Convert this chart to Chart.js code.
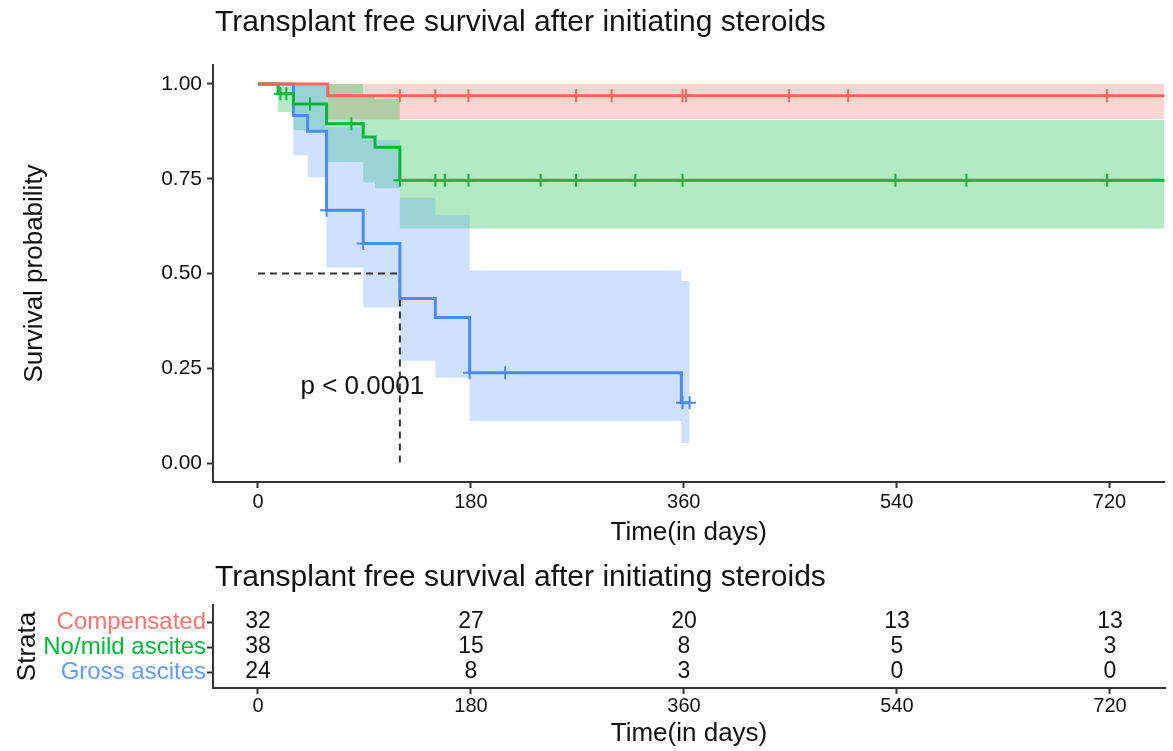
<!DOCTYPE html>
<html lang="en">
<head>
<meta charset="UTF-8">
<title>Transplant free survival after initiating steroids</title>
<script src="https://cdn.jsdelivr.net/npm/chart.js"></script>
<style>
  body { margin: 0; background: #fff; }
  #wrap { position: relative; width: 1173px; height: 751px; }
  #kmChart { position: absolute; left: 0; top: 0; }
  #riskChart { position: absolute; left: 0; top: 556px; }
</style>
</head>
<body>
<div id="wrap">
  <canvas id="kmChart" width="1173" height="556"></canvas>
  <canvas id="riskChart" width="1173" height="195"></canvas>
</div>
<script>
const chartTitle = 'Transplant free survival after initiating steroids';
const strata = ['Compensated', 'No/mild ascites', 'Gross ascites'];
const lineColors = ['#F4675E', '#0AB53B', '#4A8BF6'];
const labelColors = ['#F8766D', '#00BA38', '#619CFF'];
const bandColors = ['rgba(248,118,109,0.3)', 'rgba(0,186,56,0.3)', 'rgba(97,156,255,0.3)'];

// survival estimates (time in days)
const compTimes = [0, 59, 770];
const compSurv  = [1, 0.969, 0.969];
const compUpper = [1, 1, 1];
const compLower = [1, 0.907, 0.907];
const compCensor = [120, 150, 178, 269, 299, 359, 362, 449, 499, 718];

const mildTimes = [0, 17, 30, 58, 89, 99, 120, 770];
const mildSurv  = [1, 0.974, 0.947, 0.895, 0.86, 0.833, 0.746, 0.746];
const mildUpper = [1, 1, 1, 1, 0.97, 0.96, 0.905, 0.905];
const mildLower = [1, 0.926, 0.878, 0.794, 0.74, 0.725, 0.619, 0.619];
const mildCensor = [19, 24, 44, 79, 120, 150, 158, 178, 239, 269, 319, 359, 539, 599, 718];

const grossTimes = [0, 30, 42, 58, 89, 120, 150, 179, 358, 365];
const grossSurv  = [1, 0.917, 0.875, 0.667, 0.579, 0.434, 0.384, 0.238, 0.159, 0.159];
const grossUpper = [1, 1, 1, 0.886, 0.852, 0.70, 0.653, 0.508, 0.48, 0.48];
const grossLower = [1, 0.812, 0.754, 0.516, 0.41, 0.27, 0.225, 0.111, 0.053, 0.053];
const grossCensor = [58, 89, 179, 209, 359, 365];

const medianTime = 120;
const xTicks = [0, 180, 360, 540, 720];
const yTicks = [0, 0.25, 0.5, 0.75, 1];
const pvalText = 'p < 0.0001';
const pvalPos = [36, 0.2];

// numbers at risk at each x tick
const riskComp  = [32, 27, 20, 13, 13];
const riskMild  = [38, 15, 8, 5, 3];
const riskGross = [24, 8, 3, 0, 0];

const fontFam = '"Liberation Sans", Arial, Helvetica, sans-serif';
Chart.defaults.font.family = fontFam;
Chart.defaults.color = '#111';

function pts(times, vals) {
  return times.map((t, i) => ({ x: t, y: vals[i] }));
}
function survAt(times, vals, t) {
  let s = vals[0];
  times.forEach((tt, i) => { if (tt <= t) s = vals[i]; });
  return s;
}
function censorPts(censor, times, vals) {
  return censor.map(t => ({ x: t, y: survAt(times, vals, t) }));
}

const groups = [
  { t: compTimes, s: compSurv, u: compUpper, l: compLower, c: compCensor },
  { t: mildTimes, s: mildSurv, u: mildUpper, l: mildLower, c: mildCensor },
  { t: grossTimes, s: grossSurv, u: grossUpper, l: grossLower, c: grossCensor }
];

const datasets = [];
groups.forEach((g, i) => {
  datasets.push({
    data: pts(g.t, g.s), stepped: true, borderColor: lineColors[i],
    borderWidth: 3, pointRadius: 0, fill: false
  });
});
groups.forEach((g, i) => {
  datasets.push({
    data: censorPts(g.c, g.t, g.s), showLine: false, pointStyle: 'cross',
    pointRadius: 6.5, pointBorderWidth: 2, pointBorderColor: lineColors[i],
    borderColor: lineColors[i]
  });
});
datasets.push({
  data: [{ x: 0, y: 0.5 }, { x: medianTime, y: 0.5 }, { x: medianTime, y: 0 }],
  borderColor: '#333', borderWidth: 2, borderDash: [7, 5], pointRadius: 0, fill: false
});
// bands: blue first so red is painted underneath
[2, 1, 0].forEach(i => {
  const g = groups[i];
  datasets.push({
    data: pts(g.t, g.u), stepped: true, borderWidth: 0, pointRadius: 0, fill: false
  });
  datasets.push({
    data: pts(g.t, g.l), stepped: true, borderWidth: 0, pointRadius: 0,
    fill: '-1', backgroundColor: bandColors[i]
  });
});

const kmText = {
  id: 'kmText',
  afterDraw(chart) {
    const { ctx, chartArea, scales } = chart;
    ctx.save();
    ctx.fillStyle = '#111';
    ctx.textBaseline = 'middle';
    ctx.textAlign = 'left';
    ctx.font = '30px ' + fontFam;
    ctx.fillText(chartTitle, chartArea.left + 2, 23);
    ctx.font = '26px ' + fontFam;
    ctx.fillText(pvalText, scales.x.getPixelForValue(pvalPos[0]), scales.y.getPixelForValue(pvalPos[1]));
    ctx.restore();
  }
};

function xAxis(h, tickPad, titlePad) {
  return {
    type: 'linear', min: -38, max: 766.5,
    afterBuildTicks: s => { s.ticks = xTicks.map(v => ({ value: v })); },
    afterFit: s => { s.height = h; },
    grid: { drawOnChartArea: false, tickLength: 6, color: '#333', tickWidth: 2 },
    border: { color: '#333', width: 2 },
    ticks: { font: { size: 20 }, color: '#111', padding: tickPad, autoSkip: false, maxRotation: 0 },
    title: { display: true, text: 'Time(in days)', font: { size: 26 }, color: '#111', padding: { top: 0, bottom: titlePad } }
  };
}

new Chart(document.getElementById('kmChart'), {
  type: 'line',
  data: { datasets: datasets },
  options: {
    responsive: false,
    animation: false,
    events: [],
    layout: { padding: { top: 65, right: 8, left: 0, bottom: 0 } },
    plugins: {
      legend: { display: false },
      tooltip: { enabled: false },
      filler: { drawTime: 'beforeDatasetsDraw' }
    },
    scales: {
      x: xAxis(74, 2, 8),
      y: {
        type: 'linear', min: -0.05, max: 1.05,
        afterBuildTicks: s => { s.ticks = yTicks.map(v => ({ value: v })); },
        afterFit: s => { s.width = 213; },
        grid: { drawOnChartArea: false, tickLength: 6, color: '#333', tickWidth: 2 },
        border: { color: '#333', width: 2 },
        ticks: { font: { size: 21 }, color: '#111', padding: 5, callback: v => v.toFixed(2) },
        title: { display: true, text: 'Survival probability', font: { size: 26 }, color: '#111', padding: { top: 19, bottom: 0 } }
      }
    }
  },
  plugins: [kmText]
});

const riskRows = [riskComp, riskMild, riskGross];
const riskSets = riskRows.map((vals, r) => ({
  data: xTicks.map((t, i) => ({ x: t, y: r, n: vals[i] })),
  showLine: false, pointRadius: 0
}));

const riskText = {
  id: 'riskText',
  afterDatasetsDraw(chart) {
    const { ctx, chartArea } = chart;
    ctx.save();
    ctx.fillStyle = '#111';
    ctx.textBaseline = 'middle';
    ctx.textAlign = 'left';
    ctx.font = '30px ' + fontFam;
    ctx.fillText(chartTitle, chartArea.left + 2, 22);
    ctx.textAlign = 'center';
    ctx.font = '23px ' + fontFam;
    chart.data.datasets.forEach((ds, d) => {
      chart.getDatasetMeta(d).data.forEach((el, i) => {
        ctx.fillText(String(ds.data[i].n), el.x, el.y);
      });
    });
    ctx.restore();
  }
};

new Chart(document.getElementById('riskChart'), {
  type: 'line',
  data: { datasets: riskSets },
  options: {
    responsive: false,
    animation: false,
    events: [],
    layout: { padding: { top: 49, right: 8, left: 0, bottom: 0 } },
    plugins: { legend: { display: false }, tooltip: { enabled: false } },
    scales: {
      x: xAxis(63, 0, 2),
      y: {
        type: 'linear', reverse: true, min: -0.68, max: 2.64,
        afterBuildTicks: s => { s.ticks = [0, 1, 2].map(v => ({ value: v })); },
        afterFit: s => { s.width = 213; },
        grid: { drawOnChartArea: false, tickLength: 6, color: '#333', tickWidth: 2 },
        border: { color: '#333', width: 2 },
        ticks: {
          font: { size: 24 }, padding: 1,
          color: c => labelColors[c.tick.value],
          callback: v => strata[v]
        },
        title: { display: true, text: 'Strata', font: { size: 26 }, color: '#111', padding: { top: 12, bottom: 0 } }
      }
    }
  },
  plugins: [riskText]
});
</script>
</body>
</html>
